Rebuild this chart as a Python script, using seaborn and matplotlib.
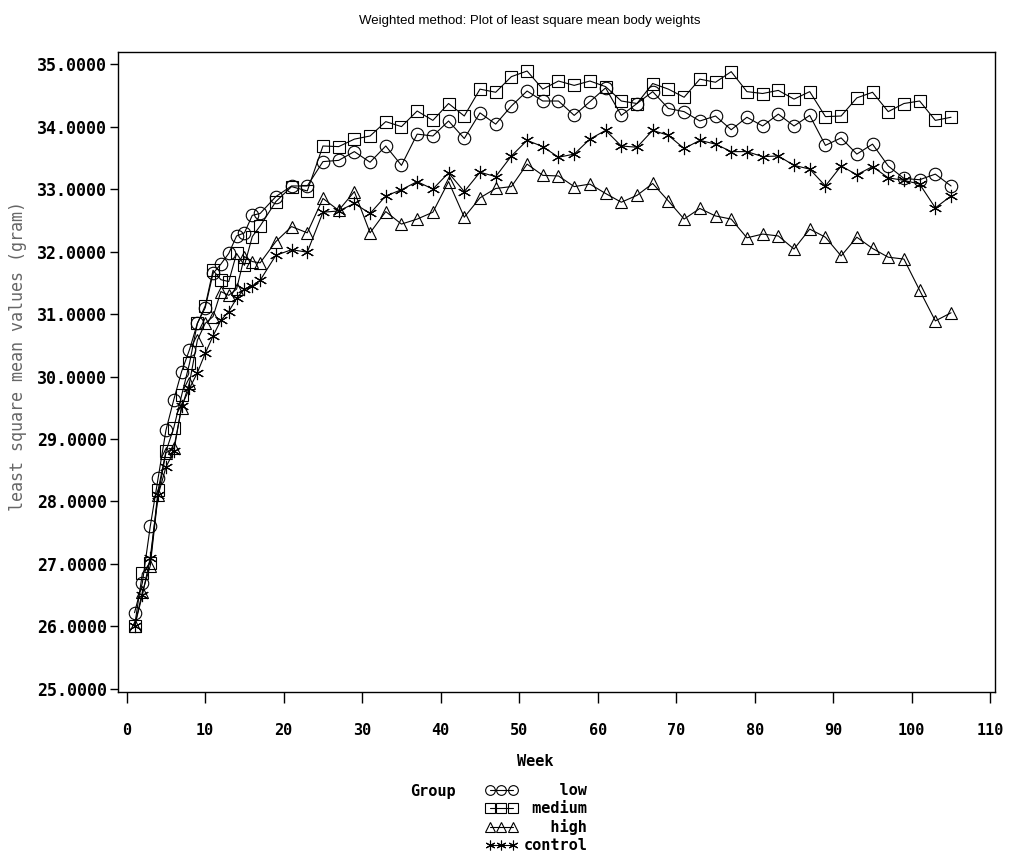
import matplotlib
matplotlib.use("Agg")
import matplotlib.pyplot as plt
from matplotlib.lines import Line2D
import seaborn as sns
import pandas as pd

weeks = list(range(1, 18)) + list(range(19, 106, 2))

low = [26.22, 26.70, 27.60, 28.37, 29.14, 29.63, 30.08, 30.43, 30.85, 31.10,
       31.65, 31.80, 31.97, 32.25, 32.30, 32.58, 32.61, 32.88, 33.05, 33.05,
       33.44, 33.46, 33.60, 33.43, 33.69, 33.38, 33.88, 33.85, 34.09, 33.81,
       34.22, 34.04, 34.33, 34.57, 34.41, 34.41, 34.18, 34.40, 34.62, 34.18,
       34.37, 34.56, 34.29, 34.24, 34.09, 34.17, 33.95, 34.15, 34.01, 34.20,
       34.01, 34.18, 33.70, 33.82, 33.56, 33.72, 33.37, 33.17, 33.15, 33.24,
       33.05]
medium = [26.00, 26.85, 27.02, 28.18, 28.80, 29.18, 29.70, 30.21, 30.85, 31.13,
          31.70, 31.55, 31.52, 31.97, 31.78, 32.24, 32.41, 32.80, 33.04, 32.97,
          33.69, 33.68, 33.80, 33.85, 34.08, 34.00, 34.25, 34.10, 34.37, 34.17,
          34.60, 34.55, 34.80, 34.89, 34.60, 34.73, 34.66, 34.73, 34.64, 34.41,
          34.37, 34.69, 34.60, 34.47, 34.76, 34.71, 34.88, 34.56, 34.53, 34.58,
          34.44, 34.56, 34.16, 34.17, 34.46, 34.55, 34.24, 34.37, 34.41, 34.10,
          34.15]
high = [26.00, 26.55, 26.97, 28.10, 28.78, 28.85, 29.50, 29.90, 30.58, 30.85,
        30.96, 31.36, 31.30, 31.40, 31.92, 31.84, 31.82, 32.16, 32.40, 32.30,
        32.85, 32.66, 32.96, 32.30, 32.64, 32.44, 32.52, 32.63, 33.12, 32.55,
        32.86, 33.01, 33.04, 33.40, 33.22, 33.21, 33.04, 33.08, 32.93, 32.79,
        32.90, 33.09, 32.81, 32.52, 32.69, 32.57, 32.52, 32.22, 32.28, 32.25,
        32.04, 32.36, 32.23, 31.93, 32.23, 32.05, 31.91, 31.88, 31.38, 30.89,
        31.02]
control = [26.00, 26.50, 27.10, 28.10, 28.55, 28.80, 29.53, 29.81, 30.06, 30.37,
           30.65, 30.90, 31.04, 31.25, 31.40, 31.45, 31.54, 31.94, 32.03, 31.99,
           32.63, 32.65, 32.77, 32.61, 32.89, 32.99, 33.12, 33.00, 33.26, 32.96,
           33.27, 33.20, 33.53, 33.78, 33.68, 33.51, 33.56, 33.80, 33.94, 33.69,
           33.67, 33.94, 33.86, 33.65, 33.78, 33.72, 33.60, 33.60, 33.52, 33.53,
           33.38, 33.32, 33.05, 33.37, 33.23, 33.36, 33.18, 33.14, 33.08, 32.70,
           32.89]

groups = ["low", "medium", "high", "control"]
series = [low, medium, high, control]
yticks = [25, 26, 27, 28, 29, 30, 31, 32, 33, 34, 35]
xticks = list(range(0, 111, 10))

df = pd.concat([pd.DataFrame({"Week": weeks, "value": v, "Group": g})
                for g, v in zip(groups, series)], ignore_index=True)

sns.set_theme(style="white")
plt.rcParams["font.family"] = ["DejaVu Sans"]
plt.rcParams["text.color"] = "black"

markers = {"low": "o", "medium": "s", "high": "^", "control": (6, 2, 0)}

fig = plt.figure(figsize=(10.15, 8.57), dpi=100)
ax = fig.add_axes([0.1163, 0.1925, 0.8640, 0.7465])

for g in groups:
    sub = df[df["Group"] == g]
    sns.lineplot(data=sub, x="Week", y="value", marker=markers[g],
                 color="black", linewidth=0.8,
                 markersize=9.5 if g == "control" else 9,
                 markeredgecolor="black", markerfacecolor="none",
                 markeredgewidth=0.8, legend=False, ax=ax, sort=False,
                 errorbar=None)
for ln in ax.lines:
    ln.set_markerfacecolor("none")
    ln.set_markeredgecolor("black")
    ln.set_color("black")

ax.set_xlim(-1.1, 110.6)
ax.set_ylim(24.95, 35.19)
ax.set_xticks(xticks)
ax.set_xticklabels([str(t) for t in xticks])
ax.set_yticks(yticks)
ax.set_yticklabels([f"{t:.4f}" for t in yticks])
for s in ax.spines.values():
    s.set_visible(True)
    s.set_color("black")
    s.set_linewidth(1.0)

ax.tick_params(axis="x", which="major", bottom=True, top=False, direction="out",
               length=8, width=1, color="black", pad=14, labelsize=11,
               labelcolor="black")
ax.tick_params(axis="y", which="major", left=True, right=False, direction="out",
               length=6, width=1, color="black", pad=2, labelsize=12,
               labelcolor="black")
for lab in ax.get_xticklabels() + ax.get_yticklabels():
    lab.set_family("DejaVu Sans Mono")
    lab.set_fontweight("bold")

ax.set_xlabel("")
ax.set_ylabel("")
fig.text(0.527, 0.112, "Week", ha="center", va="center", color="black",
         family="DejaVu Sans Mono", fontweight="bold", fontsize=11)
fig.text(0.018, 0.585, "least square mean values (gram)", rotation=90,
         ha="center", va="center", family="DejaVu Sans Mono", fontsize=12,
         color="#666666")
fig.text(0.522, 0.976, "Weighted method: Plot of least square mean body weights",
         ha="center", va="center", family="Liberation Sans", fontsize=9.5,
         color="black")

fig.text(0.404, 0.076, "Group", ha="left", va="center", color="black",
         family="DejaVu Sans Mono", fontweight="bold", fontsize=11)

handles = [Line2D([0], [0], color="black", linewidth=0.8, marker=markers[g],
                  markersize=7, markerfacecolor="none", markeredgecolor="black",
                  markeredgewidth=0.8) for g in groups]
labels = ["    low", " medium", "   high", "control"]
leg = fig.legend(handles, labels, loc="upper left", bbox_to_anchor=(0.478, 0.086),
                 frameon=False, numpoints=3, handlelength=2.1, handletextpad=0.4,
                 labelspacing=0.2, borderpad=0, borderaxespad=0,
                 labelcolor="black",
                 prop={"family": "DejaVu Sans Mono", "weight": "bold", "size": 11})

fig.savefig("out.png", dpi=100, facecolor="white")
